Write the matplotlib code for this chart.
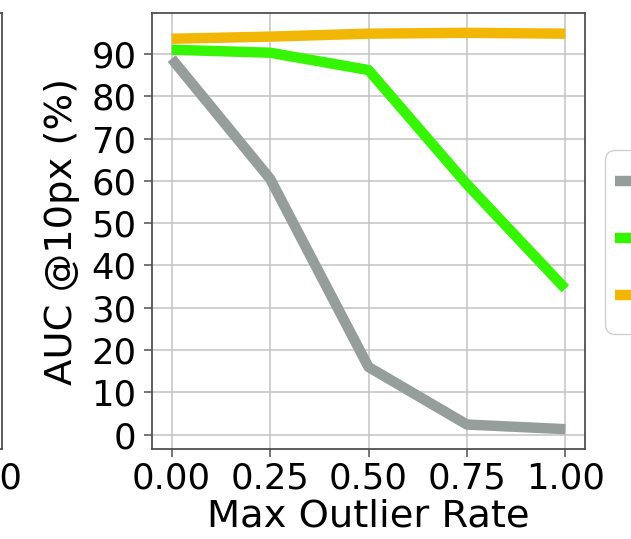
import matplotlib
matplotlib.use("Agg")
import matplotlib.pyplot as plt

# Data
outlier_rate = [0.00, 0.25, 0.50, 0.75, 1.00]
series_names = ["Baseline", "Robust", "Ours"]
auc_baseline = [88.9, 60.5, 16.0, 2.4, 1.3]
auc_robust = [91.0, 90.3, 86.2, 59.2, 34.5]
auc_ours = [93.6, 94.1, 94.8, 95.0, 94.8]
x_ticks = [0.00, 0.25, 0.50, 0.75, 1.00]
x_tick_labels = ["0.00", "0.25", "0.50", "0.75", "1.00"]
y_ticks = [0, 10, 20, 30, 40, 50, 60, 70, 80, 90]

colors = ["#969e9c", "#36f500", "#f2b705"]

plt.rcParams["font.family"] = "DejaVu Sans"
W, H = 631, 539
fig = plt.figure(figsize=(W / 100, H / 100), dpi=100)

left, right, top, bottom = 152, 585, 13, 449
ax = fig.add_axes([left / W, 1 - bottom / H, (right - left) / W, (bottom - top) / H])

# neighbouring panel, mostly outside the canvas
ax_prev = fig.add_axes([(2 - (right - left)) / W, 1 - bottom / H, (right - left) / W, (bottom - top) / H],
                       sharex=ax)

for a in (ax, ax_prev):
    for s in a.spines.values():
        s.set_color("#505050")
        s.set_linewidth(1.3)
    a.set_axisbelow(True)
    a.tick_params(axis="both", labelsize=25.5, length=6, width=1.1, color="#505050", pad=3)
ax.tick_params(axis="y", pad=5)
ax.grid(True, color="#c4c4c4", linewidth=1.1)
ax_prev.grid(True, axis="x", color="#c4c4c4", linewidth=1.1)

for vals, name, c in zip([auc_baseline, auc_robust, auc_ours], series_names, colors):
    ax.plot(outlier_rate, vals, color=c, linewidth=7.5, label=name, solid_capstyle="butt")

ax.set_xticks(x_ticks)
ax.set_xticklabels(x_tick_labels)
ax.set_yticks(y_ticks)
ax_prev.set_yticks([])
ax_prev.set_ylim(ax.get_ylim())
ax.set_xlabel("Max Outlier Rate", fontsize=27.7, labelpad=2)
ax.set_ylabel("AUC @10px (%)", fontsize=27.7, labelpad=8)

leg = ax.legend(loc="center left", bbox_to_anchor=(1.046, 0.475), borderaxespad=0,
                fontsize=36.4, frameon=True, fancybox=True, edgecolor="#d0d0d0", framealpha=1,
                handlelength=2.0, borderpad=0.2, labelspacing=0.14)

fig.savefig("out.png", dpi=100)
